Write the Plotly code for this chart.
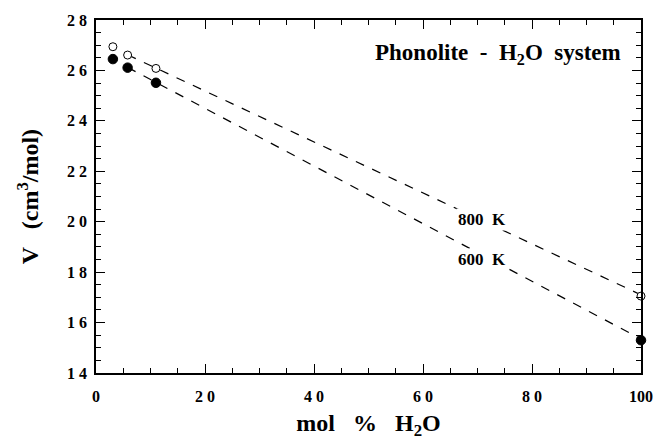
import plotly.graph_objects as go

# Data
x_h2o = [3.1, 5.8, 11.0, 100.0]
v_800 = [26.94, 26.61, 26.08, 17.05]
v_600 = [26.45, 26.11, 25.51, 15.30]

fit800_x = [5.8, 100.0]
fit800_y = [26.62, 17.10]
fit600_x = [5.8, 100.0]
fit600_y = [26.12, 15.35]

x_tickvals = [0, 20, 40, 60, 80, 100]
x_ticktext = ["0", "2 0", "4 0", "6 0", "8 0", "100"]
y_tickvals = [14, 16, 18, 20, 22, 24, 26, 28]
y_ticktext = ["1 4", "1 6", "1 8", "2 0", "2 2", "2 4", "2 6", "2 8"]

FONT = "Liberation Serif"

fig = go.Figure()
fig.add_trace(go.Scatter(x=fit800_x, y=fit800_y, mode="lines",
                         line=dict(color="black", width=1.2, dash="dash"), showlegend=False))
fig.add_trace(go.Scatter(x=fit600_x, y=fit600_y, mode="lines",
                         line=dict(color="black", width=1.2, dash="dash"), showlegend=False))
fig.add_trace(go.Scatter(x=x_h2o, y=v_800, mode="markers",
                         marker=dict(symbol="circle", size=8, color="white",
                                     line=dict(color="black", width=1)),
                         showlegend=False, cliponaxis=False))
fig.add_trace(go.Scatter(x=x_h2o, y=v_600, mode="markers",
                         marker=dict(symbol="circle", size=9.5, color="black",
                                     line=dict(color="black", width=1)),
                         showlegend=False, cliponaxis=False))

fig.add_annotation(x=70.8, y=20.1, text="<b>800  K</b>", showarrow=False,
                   font=dict(family=FONT, size=17, color="black"),
                   bgcolor="white", borderpad=1)
fig.add_annotation(x=70.8, y=18.52, text="<b>600  K</b>", showarrow=False,
                   font=dict(family=FONT, size=17, color="black"),
                   bgcolor="white", borderpad=1)
fig.add_annotation(x=0.967, y=0.905, xref="paper", yref="paper", xanchor="right",
                   yanchor="middle",
                   text="<b>Phonolite  -  H<sub>2</sub>O  system</b>", showarrow=False,
                   font=dict(family=FONT, size=23, color="black"))

axis_common = dict(showline=True, linecolor="black", linewidth=1.6, mirror="ticks",
                   ticks="inside", tickcolor="black", tickwidth=1.3, ticklen=9,
                   showgrid=False, zeroline=False,
                   tickfont=dict(family=FONT, size=16, color="black"))

fig.update_xaxes(range=[0, 100], tickvals=x_tickvals, ticktext=["<b>%s</b>" % t for t in x_ticktext],
                 minor=dict(dtick=5, ticks="inside", ticklen=5, tickcolor="black", tickwidth=1.2),
                 title=dict(text="<b>mol   %   H<sub>2</sub>O</b>", standoff=10,
                            font=dict(family=FONT, size=24, color="black")),
                 ticklabelstandoff=8, **axis_common)
fig.update_yaxes(range=[14, 28], tickvals=y_tickvals, ticktext=["<b>%s</b>" % t for t in y_ticktext],
                 minor=dict(dtick=0.5, ticks="inside", ticklen=5, tickcolor="black", tickwidth=1.2),
                 title=dict(text="<b>V   (cm<sup>3</sup>/mol)</b>", standoff=22,
                            font=dict(family=FONT, size=24, color="black")),
                 ticklabelstandoff=4, **axis_common)

fig.update_layout(width=659, height=441, margin=dict(l=96, r=18, t=20, b=68, autoexpand=False),
                  paper_bgcolor="white", plot_bgcolor="white",
                  font=dict(family=FONT, color="black"))

fig.write_html("out.html")
